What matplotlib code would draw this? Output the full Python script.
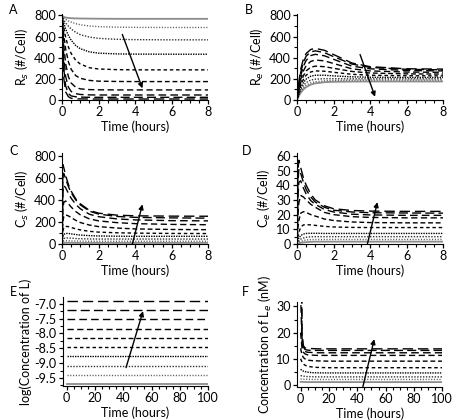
import matplotlib
matplotlib.use("Agg")
import matplotlib.pyplot as plt
from matplotlib.ticker import MultipleLocator

plt.rcParams["font.family"] = ["Lato", "DejaVu Sans"]
plt.rcParams["font.size"] = 9

# time grid for the 8 hour simulations (hours)
t_short = [0, 0.05, 0.1, 0.2, 0.35, 0.5, 0.75, 1, 1.5, 2, 3, 4, 6, 8]
# time grid for the 100 hour simulations (hours)
t_long = [0, 1, 2, 3, 5, 8, 12, 20, 40, 100]

# one curve per ligand dose, lowest dose first
log_L = [-9.70, -9.39, -9.08, -8.77, -8.46, -8.15, -7.84, -7.53, -7.22, -6.91]

Rs = [
    [800, 790, 785, 780, 776, 774, 772, 771, 770, 769, 768, 768, 768, 768],
    [800, 785, 775, 762, 748, 737, 722, 712, 700, 694, 689, 687, 686, 686],
    [800, 775, 755, 728, 698, 672, 640, 618, 595, 583, 574, 571, 569, 569],
    [800, 760, 725, 670, 610, 565, 515, 485, 455, 443, 436, 434, 433, 433],
    [800, 735, 680, 590, 500, 440, 375, 340, 305, 293, 287, 285, 285, 285],
    [800, 700, 610, 480, 360, 290, 230, 205, 185, 178, 175, 174, 174, 174],
    [800, 640, 510, 340, 220, 160, 120, 105, 98, 96, 95, 95, 95, 95],
    [800, 560, 400, 220, 120, 80, 60, 52, 48, 47, 47, 47, 47, 47],
    [800, 470, 290, 130, 60, 38, 30, 27, 25, 25, 25, 25, 25, 25],
    [800, 380, 200, 75, 30, 16, 11, 10, 9, 9, 9, 9, 9, 9],
]

Re = [
    [0, 20, 38, 68, 100, 122, 145, 157, 168, 172, 174, 175, 175, 175],
    [0, 24, 45, 80, 115, 140, 162, 172, 181, 185, 187, 188, 188, 188],
    [0, 28, 52, 95, 138, 165, 188, 197, 201, 201, 200, 200, 200, 200],
    [0, 33, 63, 115, 165, 198, 225, 234, 234, 228, 219, 215, 213, 213],
    [0, 40, 76, 138, 195, 235, 265, 275, 272, 262, 243, 234, 229, 228],
    [0, 48, 92, 165, 230, 275, 310, 320, 315, 300, 270, 255, 247, 245],
    [0, 58, 110, 195, 275, 325, 365, 378, 370, 345, 295, 275, 264, 262],
    [0, 70, 130, 230, 320, 375, 420, 432, 418, 385, 320, 295, 279, 275],
    [0, 80, 150, 260, 360, 415, 455, 465, 448, 410, 340, 308, 290, 285],
    [0, 90, 170, 290, 390, 440, 478, 488, 470, 430, 350, 315, 295, 292],
]

Cs = [
    [0, 8, 10, 11, 11, 11, 10, 10, 10, 10, 10, 10, 10, 10],
    [0, 20, 26, 29, 29, 28, 27, 26, 25, 25, 25, 25, 25, 25],
    [0, 40, 50, 55, 55, 53, 50, 48, 46, 45, 45, 45, 45, 45],
    [0, 70, 88, 96, 96, 92, 86, 81, 76, 73, 71, 70, 70, 70],
    [0, 120, 148, 160, 158, 150, 138, 128, 115, 108, 102, 99, 96, 95],
    [0, 210, 250, 265, 255, 240, 215, 195, 172, 158, 145, 137, 132, 130],
    [0, 330, 380, 390, 365, 335, 295, 265, 228, 210, 194, 185, 178, 175],
    [0, 480, 530, 510, 460, 415, 360, 320, 270, 248, 228, 219, 212, 210],
    [0, 620, 640, 590, 520, 465, 400, 355, 298, 272, 250, 242, 237, 235],
    [0, 720, 690, 620, 540, 480, 410, 365, 305, 280, 262, 256, 253, 252],
]

Ce = [
    [0, 0.3, 0.5, 0.8, 1.1, 1.3, 1.5, 1.6, 1.6, 1.6, 1.6, 1.6, 1.6, 1.6],
    [0, 0.6, 1.1, 1.8, 2.4, 2.8, 3.0, 3.1, 3.1, 3.1, 3.1, 3.1, 3.1, 3.1],
    [0, 1.2, 2.2, 3.3, 4.1, 4.6, 4.9, 5.0, 5.0, 5.0, 5.0, 5.0, 5.0, 5.0],
    [0, 2.5, 4.0, 5.8, 6.8, 7.2, 7.3, 7.3, 7.2, 7.2, 7.2, 7.2, 7.2, 7.2],
    [0, 5, 8, 11.5, 13, 13.2, 13, 12.7, 12, 11.6, 11.3, 11.2, 11.2, 11.2],
    [0, 11, 16, 21, 22, 21.5, 20, 19, 17, 16, 15, 14.6, 14.4, 14.4],
    [0, 20, 28, 33, 32, 30, 27, 25, 21.5, 20, 18.6, 18.1, 17.8, 17.8],
    [0, 32, 42, 43, 38, 34, 29.5, 27, 23.5, 21.8, 20.3, 19.8, 19.5, 19.5],
    [0, 42, 51, 48, 42, 37, 32, 28.5, 25, 23, 21.8, 21.3, 21.1, 21.0],
    [0, 50, 57, 52, 45, 40, 34, 30, 26, 24, 22.8, 22.4, 22.2, 22.2],
]

Le = [
    [1.2, 1.2, 1.15, 1.15, 1.1, 1.1, 1.1, 1.1, 1.1, 1.1],
    [2.3, 2.25, 2.2, 2.2, 2.15, 2.1, 2.1, 2.1, 2.1, 2.1],
    [3.6, 3.5, 3.4, 3.3, 3.2, 3.15, 3.1, 3.1, 3.1, 3.1],
    [6, 5.6, 5.3, 5.1, 4.9, 4.7, 4.65, 4.6, 4.6, 4.6],
    [10, 8.8, 8, 7.6, 7.1, 6.9, 6.7, 6.6, 6.6, 6.6],
    [14, 11.5, 10.5, 10, 9.5, 9.3, 9.2, 9.1, 9.1, 9.1],
    [20, 14, 12.5, 11.9, 11.5, 11.4, 11.3, 11.3, 11.3, 11.3],
    [35, 16, 13.5, 12.8, 12.5, 12.4, 12.3, 12.3, 12.3, 12.3],
    [70, 18, 14.5, 13.6, 13.3, 13.2, 13.2, 13.2, 13.2, 13.2],
    [140, 20, 15, 14.2, 14, 13.9, 13.8, 13.8, 13.8, 13.8],
]

# line style per dose: solid -> dotted -> short dash -> long dash
styles = [
    dict(ls="-", color="0.55", lw=1.3),
    dict(ls=(0, (0.8, 1.2)), color="0.35", lw=1.0),
    dict(ls=(0, (1, 1.1)), color="0.2", lw=1.0),
    dict(ls=(0, (1, 0.8)), color="k", lw=1.0),
    dict(ls=(0, (2.5, 2)), color="k", lw=1.0),
    dict(ls=(0, (3.5, 2)), color="k", lw=1.0),
    dict(ls=(0, (4.5, 2.5)), color="k", lw=1.0),
    dict(ls=(0, (5.5, 3)), color="k", lw=1.0),
    dict(ls=(0, (6.5, 3)), color="k", lw=1.0),
    dict(ls=(0, (7.5, 3.5)), color="k", lw=1.0),
]

fig = plt.figure(figsize=(4.7, 4.2), dpi=100)

panels = [
    ("A", [0.132, 0.762, 0.311, 0.205], t_short, Rs, "R$_s$ (#/Cell)"),
    ("B", [0.632, 0.762, 0.311, 0.205], t_short, Re, "R$_e$ (#/Cell)"),
    ("C", [0.132, 0.419, 0.311, 0.217], t_short, Cs, "C$_s$ (#/Cell)"),
    ("D", [0.632, 0.419, 0.311, 0.217], t_short, Ce, "C$_e$ (#/Cell)"),
    ("E", [0.134, 0.081, 0.309, 0.212], [0, 100], [[v, v] for v in log_L],
     "log(Concentration of L)"),
    ("F", [0.632, 0.079, 0.309, 0.202], t_long, Le, "Concentration of L$_e$ (nM)"),
]

limits = {
    "A": ((0, 8), (0, 815), 200, 2),
    "B": ((0, 8), (0, 815), 200, 2),
    "C": ((0, 8), (0, 827), 200, 2),
    "D": ((0, 8), (0, 62), 10, 2),
    "E": ((-2.5, 100), (-9.77, -6.77), 0.5, 20),
    "F": ((-2.5, 100), (-0.7, 31.7), 10, 20),
}

# arrows (start, end) in data coordinates
arrows = {
    "A": ((3.3, 620), (4.4, 110)),
    "B": ((3.45, 430), (4.27, 30)),
    "C": ((3.85, 0), (4.4, 360)),
    "D": ((3.85, 0), (4.4, 28.5)),
    "E": ((42, -9.15), (54, -7.25)),
    "F": ((44, -0.6), (52, 17.5)),
}

letter_pos = {"A": (0.02, 0.99), "B": (0.52, 0.99), "C": (0.02, 0.655),
              "D": (0.515, 0.655), "E": (0.02, 0.318), "F": (0.515, 0.318)}

for name, rect, tt, curves, ylab in panels:
    ax = fig.add_axes(rect)
    for k, y in enumerate(curves):
        ax.plot(tt, y, **styles[k])
    xl, yl, ymaj, xmaj = limits[name]
    ax.set_xlim(*xl)
    ax.set_ylim(*yl)
    ax.yaxis.set_major_locator(MultipleLocator(ymaj))
    ax.yaxis.set_minor_locator(MultipleLocator(ymaj / 2))
    ax.xaxis.set_major_locator(MultipleLocator(xmaj))
    ax.xaxis.set_minor_locator(MultipleLocator(xmaj / 4))
    if name == "E":
        ax.set_yticks([-7.0, -7.5, -8.0, -8.5, -9.0, -9.5])
        ax.set_yticklabels(["-7.0", "-7.5", "-8.0", "-8.5", "-9.0", "-9.5"])
        ax.yaxis.set_minor_locator(MultipleLocator(0.25))
    ax.tick_params(which="major", direction="out", length=3, width=0.9, pad=1.5)
    ax.tick_params(which="minor", direction="out", length=2, width=0.8)
    ax.spines["top"].set_visible(False)
    ax.spines["right"].set_visible(False)
    ax.set_xlabel("Time (hours)", labelpad=1.5)
    ax.set_ylabel(ylab, labelpad=2)
    (x0, y0), (x1, y1) = arrows[name]
    ax.annotate("", xy=(x1, y1), xytext=(x0, y0),
                arrowprops=dict(arrowstyle="-|>", color="k", lw=1.0,
                                mutation_scale=7, shrinkA=0, shrinkB=0))
    fig.text(*letter_pos[name], name, fontsize=9, ha="left", va="top")

fig.savefig("out.png", dpi=100)
